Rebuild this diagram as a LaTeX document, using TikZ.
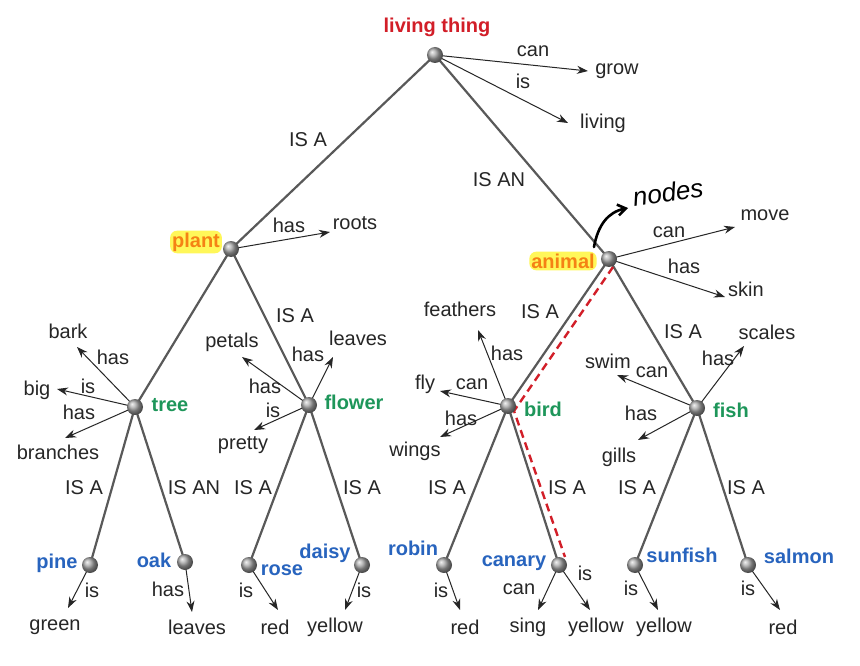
\documentclass[tikz,border=0pt]{standalone}
\usepackage{fontspec}
\setmainfont{Liberation Sans}
\usetikzlibrary{arrows.meta}
\definecolor{cblue}{RGB}{40,100,190}
\definecolor{cgreen}{RGB}{30,150,90}
\definecolor{corange}{RGB}{245,130,20}
\definecolor{cred}{RGB}{210,30,40}
\begin{document}
\begin{tikzpicture}[x=1pt,y=-1pt,
  ball/.style={circle,inner sep=0pt,minimum size=16pt,ball color=gray!70},
  edge/.style={draw=black!65,line width=2.2pt},
  rel/.style={draw=black!85,line width=1pt,-{Stealth[length=11pt,width=8pt]}},
  lbl/.style={font=\fontsize{20}{20}\selectfont,text=black!85,inner sep=1pt},
  cat/.style={font=\fontsize{20}{20}\selectfont\bfseries,inner sep=1pt},
  green/.style={cat,text=cgreen},
  blue/.style={cat,text=cblue},
  hl/.style={cat,text=corange,fill=yellow!65,rounded corners=7pt,inner sep=2pt}]
\useasboundingbox (0,0) rectangle (860,666);
\fill[white] (0,0) rectangle (860,666);
\coordinate (lt) at (435,55);
\coordinate (pl) at (231,249);
\coordinate (an) at (609,259);
\coordinate (tr) at (135,407);
\coordinate (fl) at (309,405);
\coordinate (bi) at (508,406);
\coordinate (fi) at (697,408);
\coordinate (pi) at (90,565);
\coordinate (oa) at (185,562);
\coordinate (ro) at (249,565);
\coordinate (da) at (362,565);
\coordinate (rb) at (444,565);
\coordinate (ca) at (559,565);
\coordinate (su) at (635,565);
\coordinate (sa) at (748,565);
\foreach \a/\b in {lt/pl,lt/an,pl/tr,pl/fl,an/bi,an/fi,tr/pi,tr/oa,fl/ro,fl/da,bi/rb,bi/ca,fi/su,fi/sa}
  \path[edge] (\a) -- (\b);
\draw[cred,line width=2.4pt,dash pattern=on 8pt off 5pt] (613,267) -- (514,411) -- (565,557);
% category labels
\node[cat,text=cred] (ltl) at (437,27) {living thing};
\node[hl] (pll) at (196,242) {plant};
\node[hl] (anl) at (563,261) {animal};
\node[green] (trl) at (170,405) {tree};
\node[green] (fll) at (354,402) {flower};
\node[green] (bil) at (543,409) {bird};
\node[green] (fil) at (731,410) {fish};
\node[blue] (pil) at (57,563) {pine};
\node[blue] (oal) at (154,560) {oak};
\node[blue] (rol) at (282,570) {rose};
\node[blue] (dal) at (325,553) {daisy};
\node[blue] (rbl) at (413,548) {robin};
\node[blue] (cal) at (514,563) {canary};
\node[blue] (sul) at (682,555) {sunfish};
\node[blue] (sal) at (799,556) {salmon};
\foreach \x/\y/\t in {308/140/IS A,499/180/IS AN,295/316/IS A,540/312/IS A,683/332/IS A,84/488/IS A,194/488/IS AN,253/488/IS A,362/488/IS A,447/488/IS A,567/488/IS A,637/488/IS A,746/488/IS A}
  \node[lbl] at (\x,\y) {\t};
\foreach \x/\y/\t in {617/71/grow,603/123/living,355/223/roots,765/215/move,746/289/skin,
  68/331/bark,37/390/big,58/452/branches,232/342/petals,358/338/leaves,243/445/pretty,
  460/309/feathers,425/384/fly,415/451/wings,767/332/scales,608/361/swim,619/457/gills,
  55/627/green,197/627/leaves,275/627/red,335/627/yellow,465/627/red,528/627/sing,596/627/yellow,664/627/yellow,783/627/red}
  \node[lbl] at (\x,\y) {\t};
\foreach \x/\y/\t in {533/51/can,523/81/is,289/225/has,669/232/can,684/266/has,
  113/357/has,88/386/is,79/412/has,265/386/has,308/354/has,273/410/is,
  507/353/has,472/384/can,461/418/has,718/358/has,652/372/can,641/413/has,
  92/590/is,168/589/has,246/590/is,364/590/is,441/590/is,519/589/can,585/573/is,631/588/is,748/588/is}
  \node[lbl] at (\x,\y) {\t};
\coordinate (c1) at (588,71); \coordinate (c2) at (568,123);
\coordinate (c3) at (330,232); \coordinate (c4) at (735,227); \coordinate (c5) at (725,297);
\coordinate (c6) at (77,347); \coordinate (c7) at (57,389); \coordinate (c8) at (65,438);
\coordinate (c9) at (242,357); \coordinate (c10) at (333,357); \coordinate (c11) at (254,430);
\coordinate (c12) at (478,330); \coordinate (c13) at (440,391); \coordinate (c14) at (440,437);
\coordinate (c15) at (744,346); \coordinate (c16) at (617,375); \coordinate (c17) at (638,440);
\coordinate (d1) at (68,608); \coordinate (d2) at (192,612); \coordinate (d3) at (278,610);
\coordinate (d4) at (345,610); \coordinate (d5) at (460,610); \coordinate (d6) at (538,610);
\coordinate (d7) at (590,610); \coordinate (d8) at (658,610); \coordinate (d9) at (780,610);
\foreach \a/\b in {lt/c1,lt/c2,pl/c3,an/c4,an/c5,tr/c6,tr/c7,tr/c8,fl/c9,fl/c10,fl/c11,
  bi/c12,bi/c13,bi/c14,fi/c15,fi/c16,fi/c17,pi/d1,oa/d2,ro/d3,da/d4,rb/d5,ca/d6,ca/d7,su/d8,sa/d9}
  \draw[rel] (\a) -- (\b);
\foreach \n in {lt,pl,an,tr,fl,bi,fi,pi,oa,ro,da,rb,ca,su,sa}
  \node[ball] (\n b) at (\n) {};
% annotation
\coordinate (n1) at (594,247);
\coordinate (n2) at (628,208);
\draw[line width=2.6pt,line cap=round,-{Straight Barb[length=8pt,width=11pt]}] (n1) .. controls (598,225) and (608,212) .. (n2);
\node[font=\fontsize{26}{26}\selectfont\itshape\rmfamily,rotate=8] (nd) at (668,192) {nodes};
\end{tikzpicture}
\end{document}
